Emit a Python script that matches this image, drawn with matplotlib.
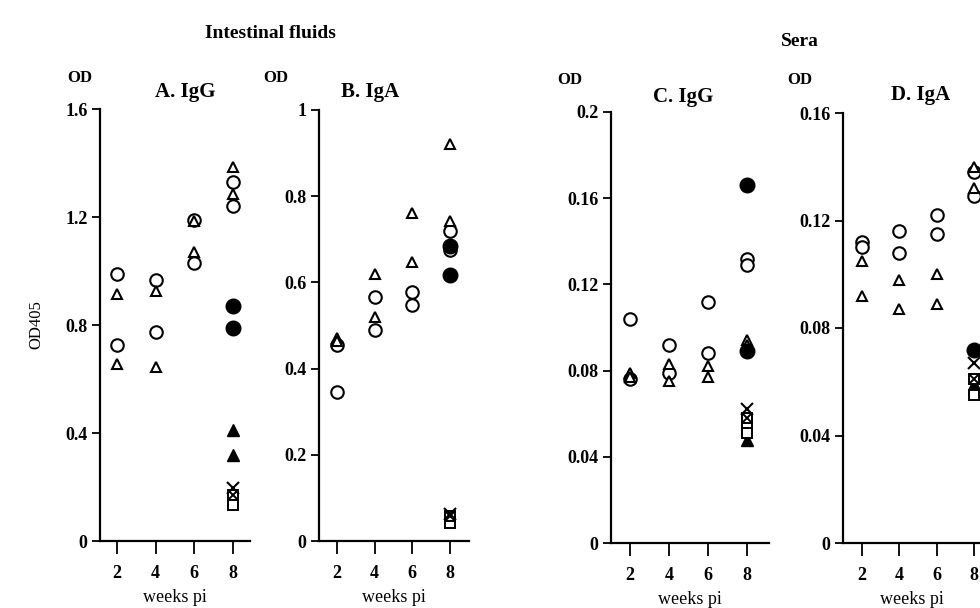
import matplotlib
matplotlib.use("Agg")
import matplotlib.pyplot as plt

plt.rcParams['font.family'] = ['Liberation Serif', 'DejaVu Serif']

# ---------------- data ----------------
# Panel A: intestinal fluids IgG
A_oc_w = [2, 2, 4, 4, 6, 6, 8, 8]
A_oc = [0.99, 0.725, 0.965, 0.775, 1.19, 1.03, 1.33, 1.24]
A_ot_w = [2, 2, 4, 4, 6, 6, 8, 8]
A_ot = [0.915, 0.655, 0.925, 0.645, 1.185, 1.07, 1.385, 1.285]
A_fc_w = [8, 8]
A_fc = [0.87, 0.79]
A_ft_w = [8, 8]
A_ft = [0.41, 0.32]
A_x_w = [8]
A_x = [0.195]
A_bx_w = [8]
A_bx = [0.17]
A_sq_w = [8, 8]
A_sq = [0.15, 0.135]

# Panel B: intestinal fluids IgA
B_oc_w = [2, 2, 4, 4, 6, 6, 8, 8]
B_oc = [0.455, 0.345, 0.565, 0.49, 0.578, 0.548, 0.72, 0.675]
B_ot_w = [2, 2, 4, 4, 6, 6, 8, 8]
B_ot = [0.472, 0.465, 0.62, 0.52, 0.762, 0.647, 0.92, 0.742]
B_fc_w = [8, 8]
B_fc = [0.685, 0.617]
B_ft_w = []
B_ft = []
B_x_w = [8]
B_x = [0.062]
B_bx_w = [8]
B_bx = [0.058]
B_sq_w = [8, 8]
B_sq = [0.048, 0.042]

# Panel C: sera IgG
C_oc_w = [2, 2, 4, 4, 6, 6, 8, 8]
C_oc = [0.104, 0.076, 0.092, 0.079, 0.112, 0.088, 0.132, 0.129]
C_ot_w = [2, 2, 4, 4, 6, 6, 8, 8]
C_ot = [0.079, 0.077, 0.083, 0.075, 0.082, 0.077, 0.094, 0.092]
C_fc_w = [8, 8]
C_fc = [0.166, 0.089]
C_ft_w = [8]
C_ft = [0.048]
C_x_w = [8]
C_x = [0.062]
C_bx_w = [8]
C_bx = [0.058]
C_sq_w = [8, 8]
C_sq = [0.055, 0.051]

# Panel D: sera IgA
D_oc_w = [2, 2, 4, 4, 6, 6, 8, 8]
D_oc = [0.112, 0.110, 0.116, 0.108, 0.122, 0.115, 0.138, 0.129]
D_ot_w = [2, 2, 4, 4, 6, 6, 8, 8]
D_ot = [0.105, 0.092, 0.098, 0.087, 0.100, 0.089, 0.140, 0.132]
D_fc_w = [8]
D_fc = [0.072]
D_ft_w = [8]
D_ft = [0.059]
D_x_w = [8]
D_x = [0.067]
D_bx_w = [8]
D_bx = [0.061]
D_sq_w = [8]
D_sq = [0.055]

weeks_ticks = [2, 4, 6, 8]
A_yticks = [0, 0.4, 0.8, 1.2, 1.6]
A_ylabels = ['0', '0.4', '0.8', '1.2', '1.6']
B_yticks = [0, 0.2, 0.4, 0.6, 0.8, 1.0]
B_ylabels = ['0', '0.2', '0.4', '0.6', '0.8', '1']
C_yticks = [0, 0.04, 0.08, 0.12, 0.16, 0.2]
C_ylabels = ['0', '0.04', '0.08', '0.12', '0.16', '0.2']
D_yticks = [0, 0.04, 0.08, 0.12, 0.16]
D_ylabels = ['0', '0.04', '0.08', '0.12', '0.16']

titles = ['A. IgG', 'B. IgA', 'C. IgG', 'D. IgA']

# ---------------- figure ----------------
W, H = 980, 608
fig = plt.figure(figsize=(W / 100, H / 100), dpi=100)

def rect(l, r, b, t):
    return [l / W, 1 - b / H, (r - l) / W, (b - t) / H]

axA = fig.add_axes(rect(100, 250, 541, 109))
axB = fig.add_axes(rect(319, 469, 541, 110))
axC = fig.add_axes(rect(611, 769, 543, 112))
axD = fig.add_axes(rect(843, 980, 543, 113))

panels = [
    (axA, (1.12, 8.88), (0, 1.6), A_yticks, A_ylabels,
     [(A_oc_w, A_oc), (A_ot_w, A_ot), (A_fc_w, A_fc), (A_ft_w, A_ft),
      (A_x_w, A_x), (A_bx_w, A_bx), (A_sq_w, A_sq)]),
    (axB, (1.04, 9.01), (0, 1.0), B_yticks, B_ylabels,
     [(B_oc_w, B_oc), (B_ot_w, B_ot), (B_fc_w, B_fc), (B_ft_w, B_ft),
      (B_x_w, B_x), (B_bx_w, B_bx), (B_sq_w, B_sq)]),
    (axC, (1.03, 9.13), (0, 0.2), C_yticks, C_ylabels,
     [(C_oc_w, C_oc), (C_ot_w, C_ot), (C_fc_w, C_fc), (C_ft_w, C_ft),
      (C_x_w, C_x), (C_bx_w, C_bx), (C_sq_w, C_sq)]),
    (axD, (1.0, 8.3), (0, 0.16), D_yticks, D_ylabels,
     [(D_oc_w, D_oc), (D_ot_w, D_ot), (D_fc_w, D_fc), (D_ft_w, D_ft),
      (D_x_w, D_x), (D_bx_w, D_bx), (D_sq_w, D_sq)]),
]

for ax, xl, yl, yt, ytl, groups in panels:
    oc, ot, fc, ft, xx, bx, sq = groups
    kw = dict(linestyle='none', color='black')
    ax.plot(oc[0], oc[1], marker='o', ms=9, mfc='white', mec='black', mew=1.5, **kw)
    ax.plot(ot[0], ot[1], marker='^', ms=7, mfc='white', mec='black', mew=1.5, **kw)
    ax.plot(fc[0], fc[1], marker='o', ms=10.5, mfc='black', mec='black', **kw)
    ax.plot(ft[0], ft[1], marker='^', ms=9, mfc='black', mec='black', **kw)
    ax.plot(sq[0], sq[1], marker='s', ms=7.5, mfc='white', mec='black', mew=1.4, **kw)
    ax.plot(bx[0], bx[1], marker='s', ms=7.5, mfc='white', mec='black', mew=1.4, **kw)
    ax.plot(bx[0], bx[1], marker='x', ms=6, mew=1.4, **kw)
    ax.plot(xx[0], xx[1], marker='x', ms=8, mew=1.5, **kw)

    ax.set_xlim(*xl)
    ax.set_ylim(*yl)
    ax.set_xticks(weeks_ticks)
    ax.set_xticklabels([str(w) for w in weeks_ticks], fontsize=13, fontweight='bold')
    ax.set_yticks(yt)
    ax.set_yticklabels(ytl, fontsize=13, fontweight='bold')
    for s in ['top', 'right']:
        ax.spines[s].set_visible(False)
    for s in ['left', 'bottom']:
        ax.spines[s].set_linewidth(1.6)
    ax.tick_params(axis='x', direction='out', length=9, width=1.3, pad=8)
    ax.tick_params(axis='y', direction='out', length=6, width=1.3, pad=3)
    ax.set_xlabel('weeks pi', fontsize=13, labelpad=5)
    ax.patch.set_alpha(0)

# panel titles
title_pos = [(185, 92), (370, 92), (683, 97), (921, 95)]
for (x, y), t in zip(title_pos, titles):
    fig.text(x / W, 1 - y / H, t, fontsize=15, fontweight='bold', ha='center', va='center')

# "OD" labels
od_pos = [(80, 78), (276, 78), (570, 80), (800, 80)]
for x, y in od_pos:
    fig.text(x / W, 1 - y / H, 'OD', fontsize=12, fontweight='bold', ha='center', va='center')

fig.text(270 / W, 1 - 34 / H, 'Intestinal fluids', fontsize=14, fontweight='bold', ha='center', va='center')
fig.text(800 / W, 1 - 42 / H, 'Sera', fontsize=14, fontweight='bold', ha='center', va='center')
fig.text(36 / W, 1 - 325 / H, 'OD405', fontsize=12, rotation=90, ha='center', va='center')

fig.savefig('out.png', dpi=100)
